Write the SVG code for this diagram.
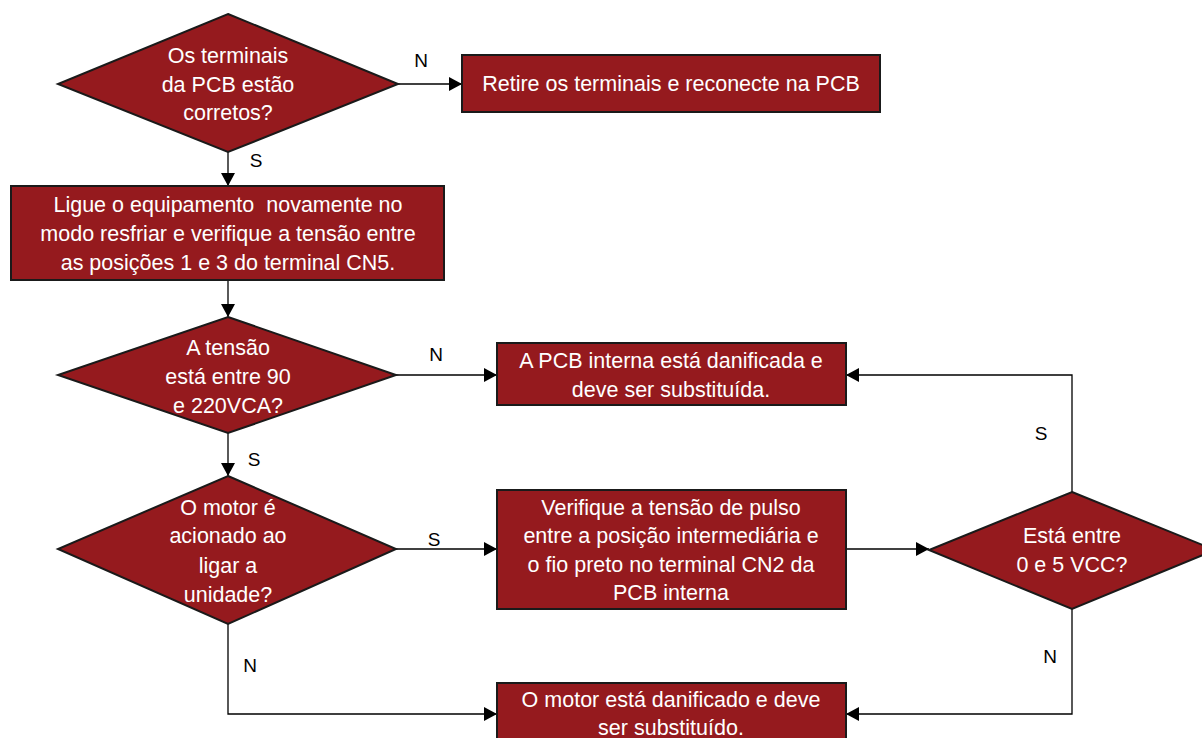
<svg xmlns="http://www.w3.org/2000/svg" width="1202" height="738" viewBox="0 0 1202 738">
<defs>
<marker id="arr" markerUnits="userSpaceOnUse" markerWidth="14" markerHeight="14" refX="13" refY="7" orient="auto">
<path d="M0,0 L13,7 L0,14 z" fill="#000"/>
</marker>
<style>
.shape{fill:#951a1e;stroke:#1a1a1a;stroke-width:2}
.t{fill:#fff;font-family:"Liberation Sans",Arial,sans-serif;font-size:21.5px;text-anchor:middle}
.lbl{fill:#000;font-family:"Liberation Sans",Arial,sans-serif;font-size:19px;text-anchor:middle}
.c{fill:none;stroke:#000;stroke-width:1.3;marker-end:url(#arr)}
</style>
</defs>
<rect width="1202" height="738" fill="#fff"/>
<g id="connectors">
<path class="c" d="M398,84 H462"/>
<path class="c" d="M228,152 V186"/>
<path class="c" d="M228,280 V317"/>
<path class="c" d="M396,375 H497"/>
<path class="c" d="M228,433 V476"/>
<path class="c" d="M396,549 H497"/>
<path class="c" d="M228,624 V714 H497"/>
<path class="c" d="M846,549 H929"/>
<path class="c" d="M1072,492 V375 H846"/>
<path class="c" d="M1072,609 V714 H846"/>
<text class="lbl" x="421" y="67">N</text>
<text class="lbl" x="256" y="167">S</text>
<text class="lbl" x="436" y="361">N</text>
<text class="lbl" x="254" y="466">S</text>
<text class="lbl" x="434" y="546">S</text>
<text class="lbl" x="250" y="672">N</text>
<text class="lbl" x="1041" y="440">S</text>
<text class="lbl" x="1050" y="663">N</text>
</g>
<g id="d1">
<polygon class="shape" points="228,14 398,84 228,152 58,84"/>
<text class="t" x="228" y="63">Os terminais</text>
<text class="t" x="228" y="92">da PCB estão</text>
<text class="t" x="228" y="120">corretos?</text>
</g>
<g id="b-retire">
<rect class="shape" x="462" y="55" width="418" height="57"/>
<text class="t" x="671" y="91">Retire os terminais e reconecte na PCB</text>
</g>
<g id="b-ligue">
<rect class="shape" x="11" y="186" width="433" height="94"/>
<text class="t" x="228" y="212" style="white-space:pre">Ligue o equipamento  novamente no</text>
<text class="t" x="228" y="241">modo resfriar e verifique a tensão entre</text>
<text class="t" x="228" y="270">as posições 1 e 3 do terminal CN5.</text>
</g>
<g id="d2">
<polygon class="shape" points="228,317 396,375 228,433 58,375"/>
<text class="t" x="228" y="355">A tensão</text>
<text class="t" x="228" y="384">está entre 90</text>
<text class="t" x="228" y="413">e 220VCA?</text>
</g>
<g id="b-pcb">
<rect class="shape" x="497" y="343" width="349" height="62"/>
<text class="t" x="671" y="368">A PCB interna está danificada e</text>
<text class="t" x="671" y="397">deve ser substituída.</text>
</g>
<g id="d3">
<polygon class="shape" points="228,476 396,549 228,624 58,549"/>
<text class="t" x="228" y="515">O motor é</text>
<text class="t" x="228" y="543">acionado ao</text>
<text class="t" x="228" y="573">ligar a</text>
<text class="t" x="228" y="602">unidade?</text>
</g>
<g id="b-verifique">
<rect class="shape" x="497" y="490" width="349" height="119"/>
<text class="t" x="671" y="515">Verifique a tensão de pulso</text>
<text class="t" x="671" y="543">entre a posição intermediária e</text>
<text class="t" x="671" y="572">o fio preto no terminal CN2 da</text>
<text class="t" x="671" y="600">PCB interna</text>
</g>
<g id="d4">
<polygon class="shape" points="1072,492 1215,550 1072,609 929,550"/>
<text class="t" x="1072" y="543">Está entre</text>
<text class="t" x="1072" y="572">0 e 5 VCC?</text>
</g>
<g id="b-motor">
<rect class="shape" x="497" y="683" width="349" height="62"/>
<text class="t" x="671" y="707">O motor está danificado e deve</text>
<text class="t" x="671" y="735">ser substituído.</text>
</g>
</svg>
